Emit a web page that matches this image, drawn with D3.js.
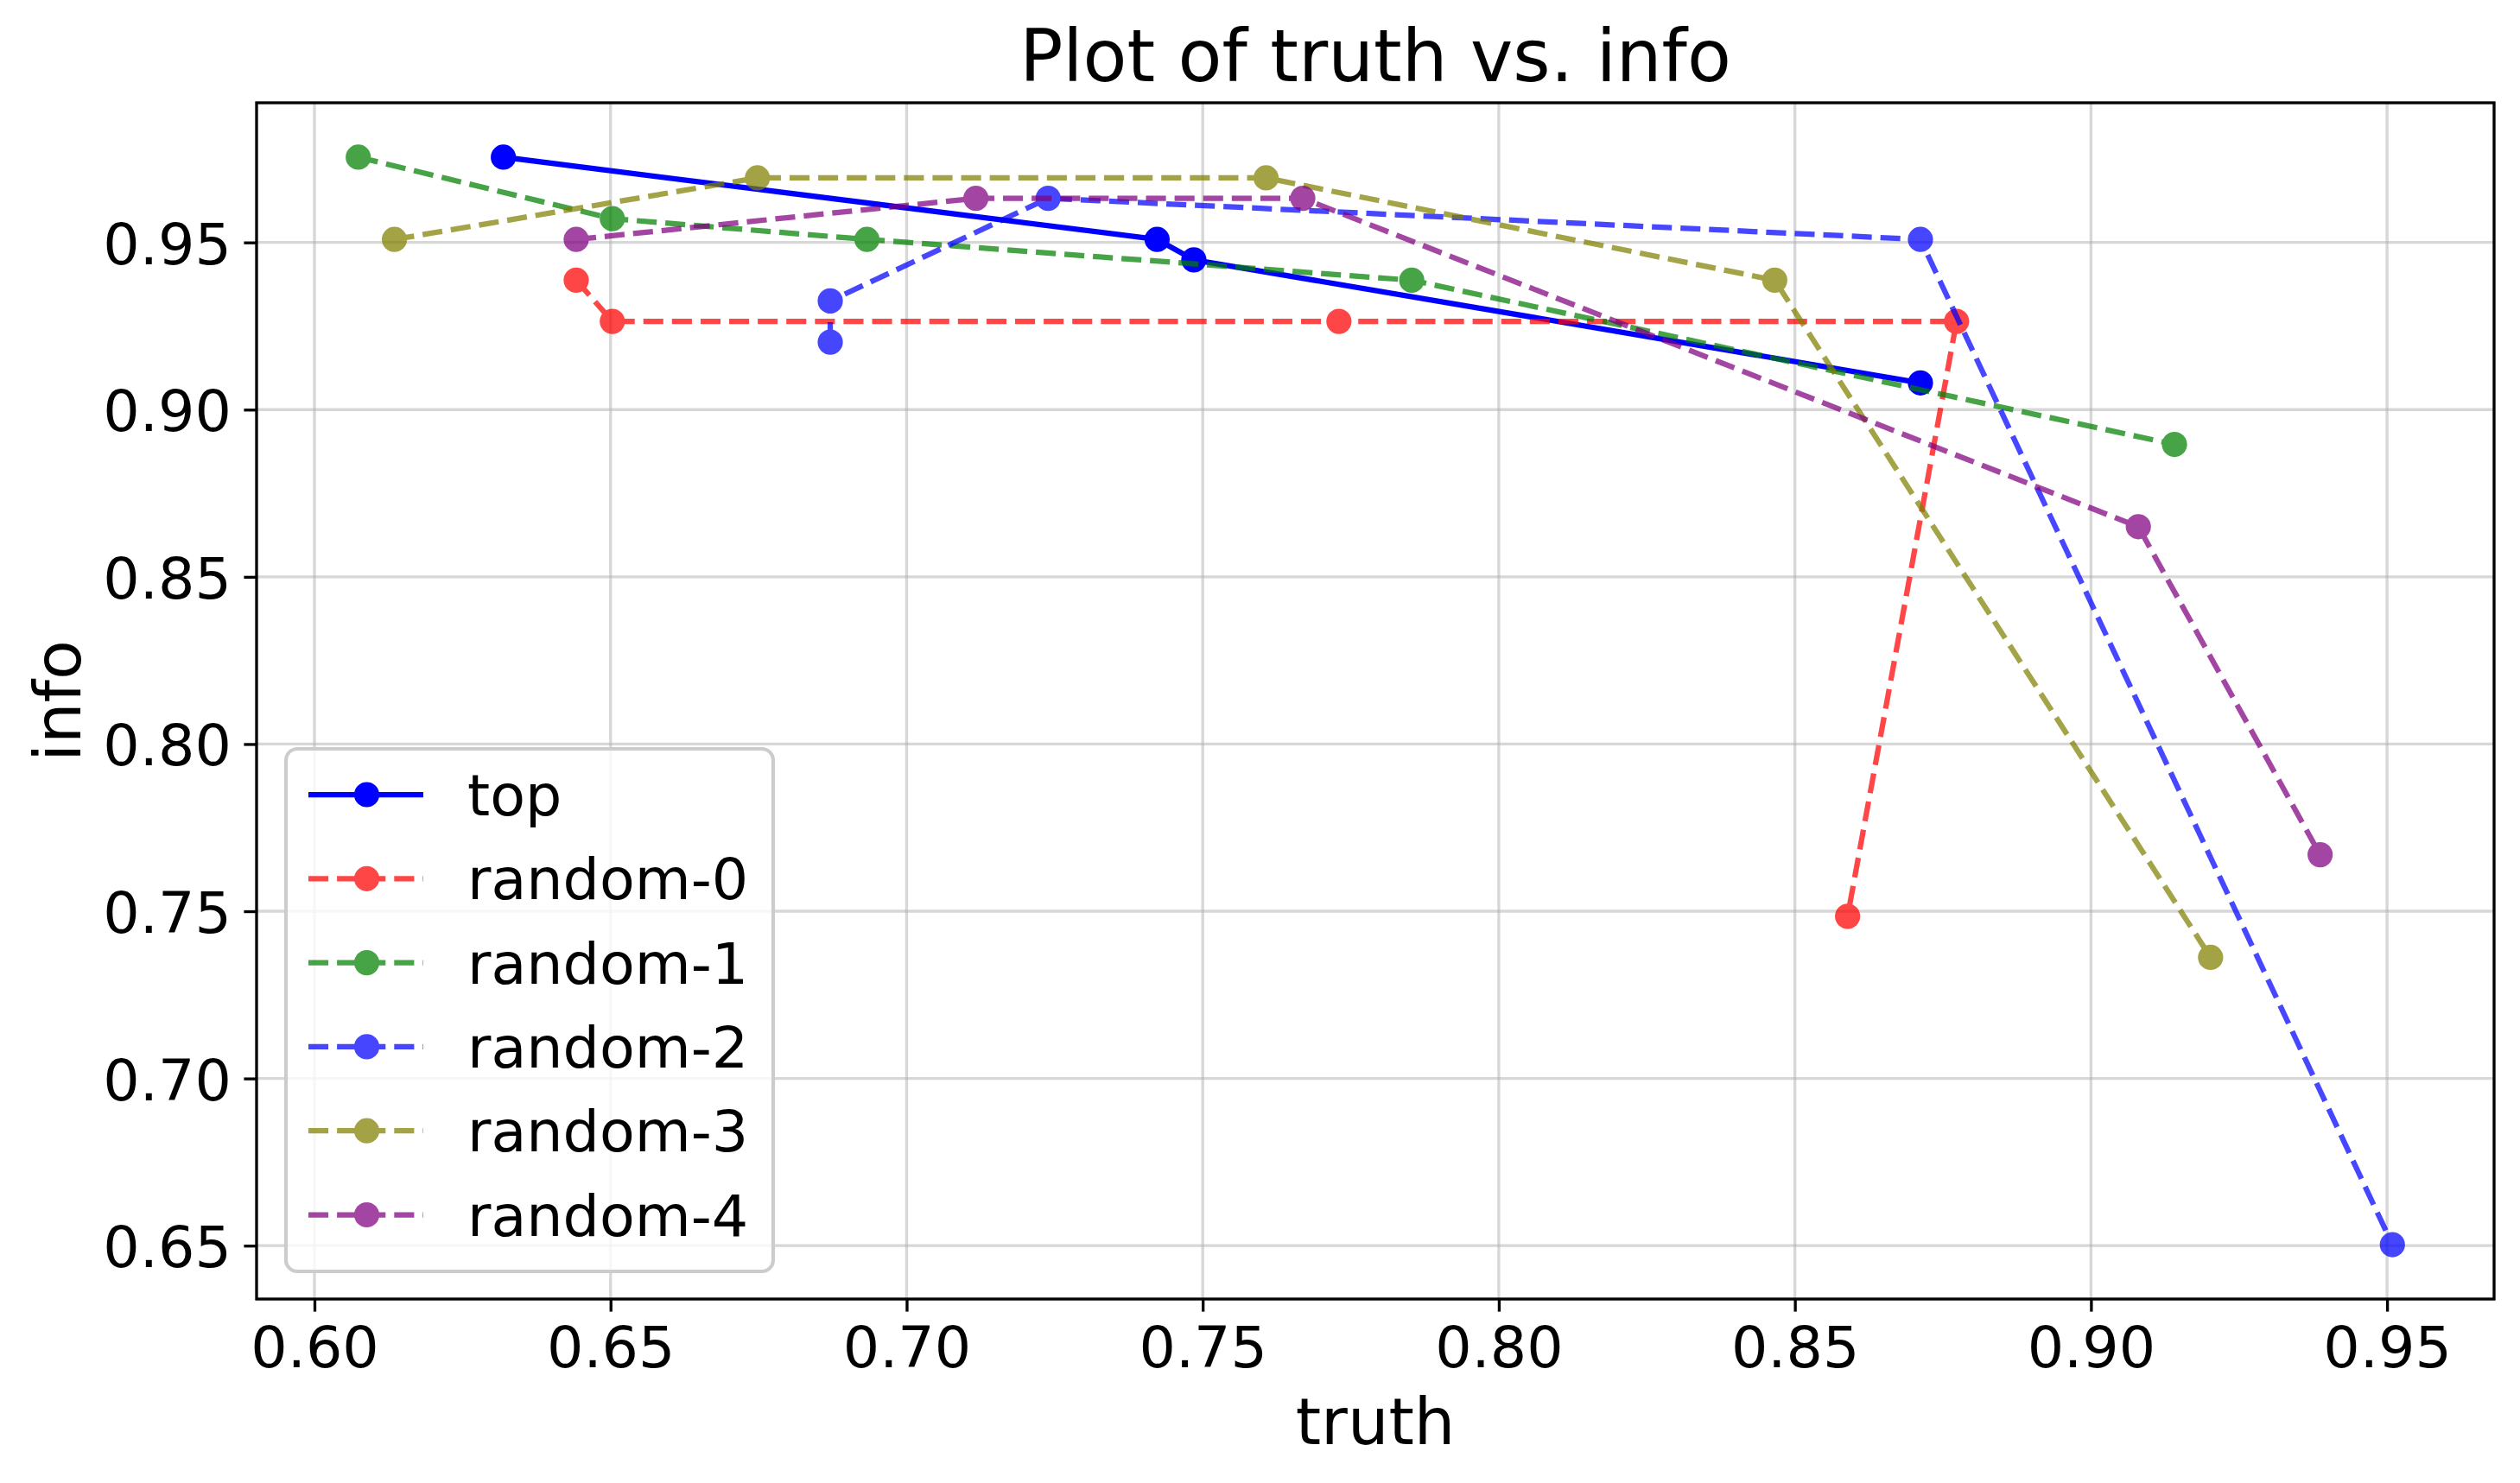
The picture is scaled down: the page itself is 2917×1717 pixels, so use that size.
<!DOCTYPE html>
<html>
<head>
<meta charset="utf-8">
<script src="https://cdn.jsdelivr.net/npm/d3@7"></script>
<style>
  html, body { margin: 0; padding: 0; background: #ffffff; }
  svg { display: block; }
  text { font-family: "DejaVu Sans", sans-serif; fill: #000; }
</style>
</head>
<body>
<script>
// ---- data ----
const seriesNames = ["top", "random-0", "random-1", "random-2", "random-3", "random-4"];
const topTruth = [0.6319, 0.7423, 0.7485, 0.8712];
const topInfo  = [0.9755, 0.9509, 0.9448, 0.9080];
const r0Truth = [0.6442, 0.6503, 0.7730, 0.8773, 0.8589];
const r0Info  = [0.9387, 0.9264, 0.9264, 0.9264, 0.7485];
const r1Truth = [0.6074, 0.6503, 0.6933, 0.7853, 0.9141];
const r1Info  = [0.9755, 0.9571, 0.9509, 0.9387, 0.8896];
const r2Truth = [0.6871, 0.6871, 0.7239, 0.8712, 0.9509];
const r2Info  = [0.9202, 0.9325, 0.9632, 0.9509, 0.6503];
const r3Truth = [0.6135, 0.6748, 0.7607, 0.8466, 0.9202];
const r3Info  = [0.9509, 0.9693, 0.9693, 0.9387, 0.7362];
const r4Truth = [0.6442, 0.7117, 0.7669, 0.9080, 0.9387];
const r4Info  = [0.9509, 0.9632, 0.9632, 0.8650, 0.7669];
const xTicks = [0.60, 0.65, 0.70, 0.75, 0.80, 0.85, 0.90, 0.95];
const yTicks = [0.65, 0.70, 0.75, 0.80, 0.85, 0.90, 0.95];
const titleText = "Plot of truth vs. info";
const xLabelText = "truth";
const yLabelText = "info";

// ---- styles ----
const colors = ["#0000ff", "#ff0000", "#008000", "#0000ff", "#808000", "#800080"];
const alphas = [1, 0.72, 0.72, 0.72, 0.72, 0.72];
const dashed = [false, true, true, true, true, true];

const W = 2917, H = 1717;
const L = 297, T = 119, R = 2887, B = 1504;
const LW = 6.25, MR = 14.6;
const DASH = "23.1,10";

const truths = [topTruth, r0Truth, r1Truth, r2Truth, r3Truth, r4Truth];
const infos = [topInfo, r0Info, r1Info, r2Info, r3Info, r4Info];
const series = seriesNames.map((n, i) => ({
  name: n, color: colors[i], alpha: alphas[i], dashed: dashed[i],
  pts: truths[i].map((t, j) => ({ x: t, y: infos[i][j] }))
}));

const allX = truths.flat(), allY = infos.flat();
const [x0, x1] = d3.extent(allX), [y0, y1] = d3.extent(allY);
const mx = (x1 - x0) * 0.05, my = (y1 - y0) * 0.05;
const x = d3.scaleLinear().domain([x0 - mx, x1 + mx]).range([L, R]);
const y = d3.scaleLinear().domain([y0 - my, y1 + my]).range([B, T]);

const svg = d3.select("body").append("svg").attr("width", W).attr("height", H);
svg.append("rect").attr("width", W).attr("height", H).attr("fill", "#fff");

// grid
const grid = svg.append("g");
grid.selectAll(".gx").data(xTicks).enter().append("line")
  .attr("x1", d => x(d)).attr("x2", d => x(d)).attr("y1", T).attr("y2", B)
  .attr("stroke", "#b0b0b0").attr("stroke-opacity", 0.5).attr("stroke-width", 3.33);
grid.selectAll(".gy").data(yTicks).enter().append("line")
  .attr("y1", d => y(d)).attr("y2", d => y(d)).attr("x1", L).attr("x2", R)
  .attr("stroke", "#b0b0b0").attr("stroke-opacity", 0.5).attr("stroke-width", 3.33);

// axes via d3
const fmt = d3.format(".2f");
const xAxis = svg.append("g").attr("transform", `translate(0,${B})`)
  .call(d3.axisBottom(x).tickValues(xTicks).tickFormat(fmt).tickSize(14.6).tickPadding(14.6));
const yAxis = svg.append("g").attr("transform", `translate(${L},0)`)
  .call(d3.axisLeft(y).tickValues(yTicks).tickFormat(fmt).tickSize(14.6).tickPadding(14.6));
[xAxis, yAxis].forEach(g => {
  g.select(".domain").remove();
  g.selectAll(".tick line").attr("stroke", "#000").attr("stroke-width", 3.33);
  g.selectAll(".tick text").attr("font-family", "DejaVu Sans").attr("font-size", 66.7).attr("fill", "#000");
});
xAxis.selectAll(".tick text").attr("dy", null).attr("y", 79.3);
yAxis.selectAll(".tick text").attr("dy", null).attr("y", 24.5).attr("x", -29.2);

// series
svg.append("clipPath").attr("id", "clip").append("rect")
  .attr("x", L).attr("y", T).attr("width", R - L).attr("height", B - T);
const plot = svg.append("g").attr("clip-path", "url(#clip)");
const line = d3.line().x(d => x(d.x)).y(d => y(d.y));
series.forEach(s => {
  const g = plot.append("g").attr("opacity", s.alpha);
  g.append("path").attr("d", line(s.pts)).attr("fill", "none")
    .attr("stroke", s.color).attr("stroke-width", LW)
    .attr("stroke-linejoin", "round")
    .attr("stroke-linecap", s.dashed ? "butt" : "square")
    .attr("stroke-dasharray", s.dashed ? DASH : null);
  g.selectAll("circle").data(s.pts).enter().append("circle")
    .attr("cx", d => x(d.x)).attr("cy", d => y(d.y)).attr("r", MR)
    .attr("fill", s.color);
});

// spines
svg.append("rect").attr("x", L).attr("y", T).attr("width", R - L).attr("height", B - T)
  .attr("fill", "none").attr("stroke", "#000").attr("stroke-width", 3.33);

// legend
const lg = svg.append("g");
const lgX = 331, lgY = 867, lgW = 564, lgH = 605;
lg.append("rect").attr("x", lgX).attr("y", lgY).attr("width", lgW).attr("height", lgH)
  .attr("rx", 13.3).attr("ry", 13.3)
  .attr("fill", "#fff").attr("fill-opacity", 0.8)
  .attr("stroke", "#cccccc").attr("stroke-width", 4.17);
series.forEach((s, i) => {
  const cy = 920 + i * 97.3;
  const h = lg.append("g").attr("opacity", s.alpha);
  h.append("line").attr("x1", 357).attr("x2", 490).attr("y1", cy).attr("y2", cy)
    .attr("stroke", s.color).attr("stroke-width", LW)
    .attr("stroke-dasharray", s.dashed ? DASH : null);
  h.append("circle").attr("cx", 424.5).attr("cy", cy).attr("r", MR)
    .attr("fill", s.color);
  lg.append("text").attr("x", 541).attr("y", cy + 24).attr("font-size", 66.7).text(s.name);
});

// title and labels
svg.append("text").attr("x", (L + R) / 2).attr("y", 94).attr("text-anchor", "middle")
  .attr("font-size", 83.3).text(titleText);
svg.append("text").attr("x", (L + R) / 2).attr("y", 1671.5).attr("text-anchor", "middle")
  .attr("font-size", 75).text(xLabelText);
svg.append("text").attr("transform", `translate(93,${(T + B) / 2}) rotate(-90)`)
  .attr("text-anchor", "middle").attr("font-size", 75).text(yLabelText);
</script>
</body>
</html>
